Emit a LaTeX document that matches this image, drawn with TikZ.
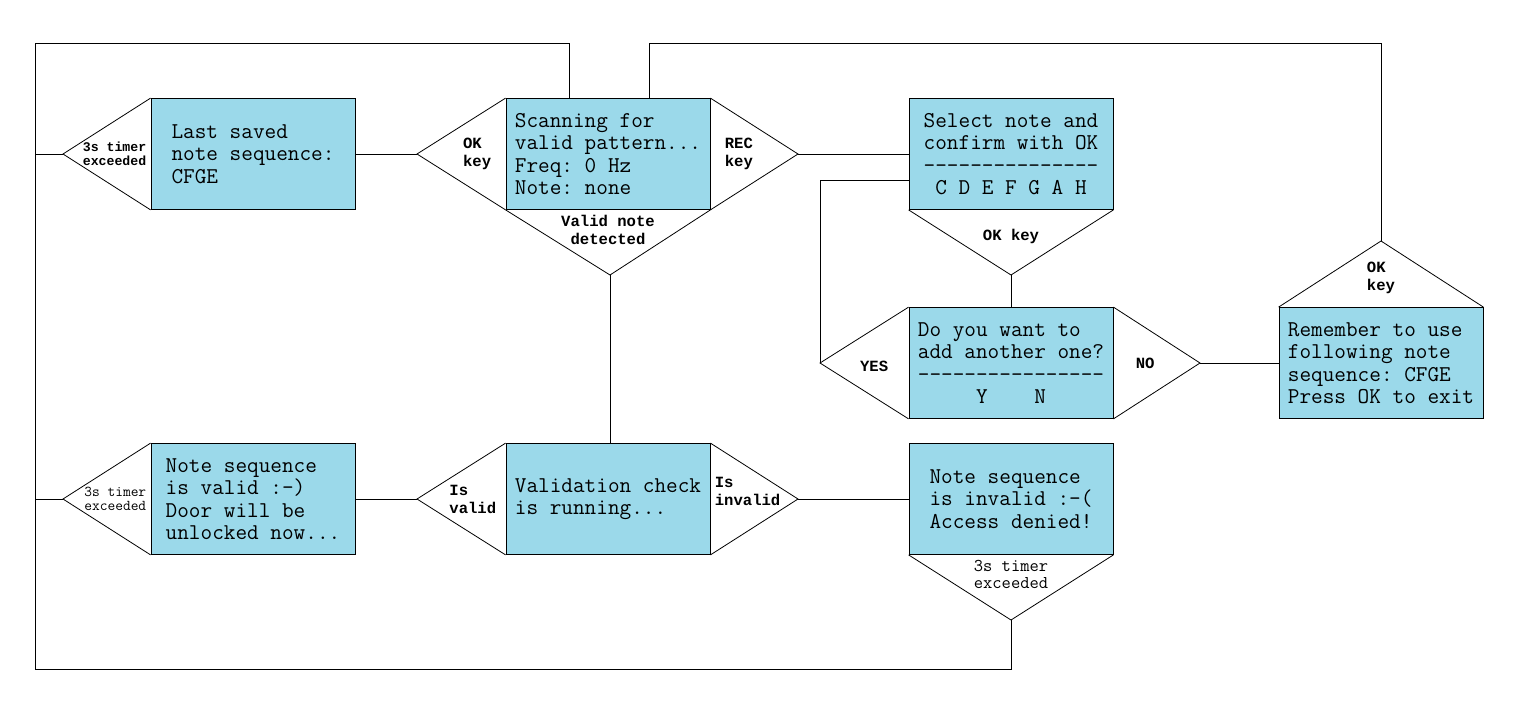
\documentclass[tikz,border=0pt]{standalone}
\usepackage{fontspec}
\newfontfamily\keyface{Liberation Mono}
\usepackage{tikz}
\usetikzlibrary{positioning}

\definecolor{lcdblue}{RGB}{155,217,234}
\newcommand{\lcdfont}{\ttfamily\frenchspacing\fontsize{22.6}{22.5}\selectfont}
\newcommand{\keyfont}{\keyface\bfseries\fontsize{15.6}{18}\selectfont}
\newcommand{\smallkeyfont}{\keyface\bfseries\fontsize{13.2}{14}\selectfont}
\newcommand{\timerfont}{\ttfamily\fontsize{18}{17}\selectfont}
\newcommand{\smalltimerfont}{\ttfamily\fontsize{15}{14}\selectfont}

\begin{document}
\begin{tikzpicture}[x=1pt, y=-1pt, line width=0.8pt,
        screen/.style={rectangle, draw, fill=lcdblue, minimum width=204pt, minimum height=111pt, align=left, inner sep=0pt, font=\lcdfont},
        keytag/.style={align=left, inner sep=0pt, font=\keyfont}]
        \useasboundingbox (0,0) rectangle (1522,720);

        % Screens
        \node [screen] (lastsaved) at (253,154) {Last saved\\note sequence:\\CFGE};
        \node [screen] (scanning) at (608,154) {Scanning for\\valid pattern...\\Freq: 0 Hz\\Note: none};
        \node [screen] (select) at (1011,154) {Select note and\\confirm with OK\\---------------\\~C D E F G A H};
        \node [screen] (addmore) at (1011,363) {Do you want to\\add another one?\\----------------\\~~~~~Y~~~~N};
        \node [screen] (remember) at (1381,363) {Remember to use\\following note\\sequence: CFGE\\Press OK to exit};
        \node [screen] (unlocked) at (253,499) {Note sequence\\is valid :-)\\Door will be\\unlocked now...};
        \node [screen] (validation) at (608,499) {Validation check\\is running...};
        \node [screen] (denied) at (1011,499) {Note sequence\\is invalid :-(\\Access denied!};

        % Tips of the key triangles
        \coordinate (tipLast) at (63,154);
        \coordinate (tipOk) at (417,154);
        \coordinate (tipRec) at (798,154);
        \coordinate (tipDetect) at (610,275);
        \coordinate (tipSelect) at (1011,275);
        \coordinate (tipYes) at (820,363);
        \coordinate (tipNo) at (1200,363);
        \coordinate (tipExit) at (1381,241);
        \coordinate (tipOpen) at (63,499);
        \coordinate (tipValid) at (417,499);
        \coordinate (tipInvalid) at (798,499);
        \coordinate (tipDenied) at (1011,620);
        \coordinate (railTop) at (35,43);
        \coordinate (railBot) at (35,669);

        % Triangles
        \draw (lastsaved.north west) -- (tipLast) -- (lastsaved.south west);
        \draw (scanning.north west) -- (tipOk) -- (scanning.south west);
        \draw (scanning.north east) -- (tipRec) -- (scanning.south east);
        \draw (scanning.south west) -- (tipDetect) -- (scanning.south east);
        \draw (select.south west) -- (tipSelect) -- (select.south east);
        \draw (addmore.north west) -- (tipYes) -- (addmore.south west);
        \draw (addmore.north east) -- (tipNo) -- (addmore.south east);
        \draw (remember.north west) -- (tipExit) -- (remember.north east);
        \draw (unlocked.north west) -- (tipOpen) -- (unlocked.south west);
        \draw (validation.north west) -- (tipValid) -- (validation.south west);
        \draw (validation.north east) -- (tipInvalid) -- (validation.south east);
        \draw (denied.south west) -- (tipDenied) -- (denied.south east);

        % Labels
        \node [keytag, font=\smallkeyfont, left=4pt of lastsaved] (lastkey) {3s timer\\exceeded};
        \node [keytag, left=14pt of scanning] (okkey) {OK\\key};
        \node [keytag, right=14pt of scanning] (reckey) {REC\\key};
        \node [keytag, align=center, below=5pt of scanning] (detectkey) {Valid note\\detected};
        \node [keytag, below=19pt of select] (selectkey) {OK key};
        \node [keytag, left=20pt of addmore, yshift=-3pt] (yeskey) {YES};
        \node [keytag, right=22pt of addmore] (nokey) {NO};
        \node [keytag, above=13pt of remember] (exitkey) {OK\\key};
        \node [keytag, font=\smalltimerfont, left=4pt of unlocked] (openkey) {3s timer\\exceeded};
        \node [keytag, left=9pt of validation] (validkey) {Is\\valid};
        \node [keytag, right=4pt of validation, yshift=8pt] (invalidkey) {Is\\invalid};
        \node [keytag, align=center, font=\timerfont, below=5pt of denied] (deniedkey) {3s timer\\exceeded};

        % Connectors
        \draw (lastsaved.east) -- (tipOk);
        \draw (tipRec) -- (select.west);
        \draw (tipSelect) -- (addmore.north);
        \draw ([yshift=-26pt]select.west) -| (tipYes);
        \draw (tipNo) -- (remember.west);
        \draw (tipDetect) -- (tipDetect |- validation.north);
        \draw (unlocked.east) -- (tipValid);
        \draw (tipInvalid) -- (denied.west);
        \draw ([xshift=-39pt]scanning.north) |- (railTop) -- (railBot) -| (tipDenied);
        \draw (tipLast) -- (tipLast -| railTop);
        \draw (tipOpen) -- (tipOpen -| railTop);
        \draw ([xshift=41pt]scanning.north) |- (tipExit |- railTop) -- (tipExit);
    \end{tikzpicture}
\end{document}
